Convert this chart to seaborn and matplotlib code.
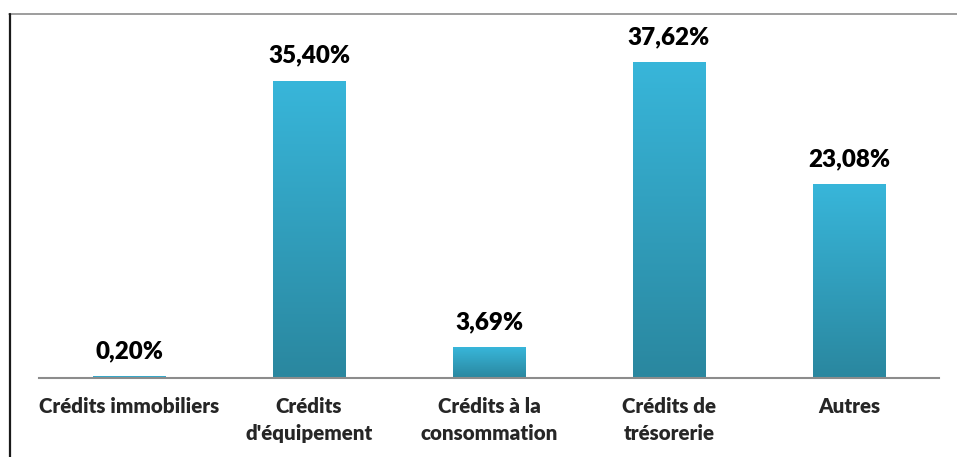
import matplotlib
matplotlib.use("Agg")
import matplotlib.pyplot as plt
import numpy as np
import pandas as pd
import seaborn as sns
from matplotlib.colors import LinearSegmentedColormap
from matplotlib.lines import Line2D

CATEGORIES = [
    "Crédits immobiliers",
    "Crédits\nd'équipement",
    "Crédits à la\nconsommation",
    "Crédits de\ntrésorerie",
    "Autres",
]
SHARES = [0.20, 35.40, 3.69, 37.62, 23.08]
VALUE_LABELS = ["0,20%", "35,40%", "3,69%", "37,62%", "23,08%"]

TOP_COLOR = "#38B6DA"
BOTTOM_COLOR = "#2A879F"
FONT = ["Lato", "DejaVu Sans"]


def main():
    sns.set_style("white")
    plt.rcParams["font.family"] = FONT

    df = pd.DataFrame({"cat": CATEGORIES, "share": SHARES})

    fig = plt.figure(figsize=(9.57, 4.57), dpi=100)
    ax = fig.add_axes([39 / 957, 79 / 457, 900 / 957, 358 / 457])
    sns.barplot(data=df, x="cat", y="share", color=TOP_COLOR, width=0.405,
                ax=ax, saturation=1)

    ax.set_xlim(-0.5, len(CATEGORIES) - 0.5)
    ax.set_ylim(0, 358 / 8.4)

    # gradient fill inside each bar
    cmap = LinearSegmentedColormap.from_list("bar", [BOTTOM_COLOR, TOP_COLOR])
    grad = np.linspace(0, 1, 256).reshape(-1, 1)
    for patch in ax.patches:
        x0, y0 = patch.get_x(), patch.get_y()
        w, h = patch.get_width(), patch.get_height()
        im = ax.imshow(grad, cmap=cmap, aspect="auto", origin="lower",
                       extent=(x0, x0 + w, y0, y0 + h), zorder=patch.get_zorder())
        im.set_clip_path(patch)
        patch.set_facecolor("none")
        patch.set_edgecolor("none")

    for i, (val, lab) in enumerate(zip(SHARES, VALUE_LABELS)):
        ax.annotate(lab, (i, val), xytext=(0, 10), textcoords="offset points",
                    ha="center", va="bottom", fontsize=17.4, fontweight="heavy",
                    color="black")

    for side in ["top", "right", "left"]:
        ax.spines[side].set_visible(False)
    ax.spines["bottom"].set_color("#8C8C8C")
    ax.spines["bottom"].set_linewidth(1.5)
    ax.set_yticks([])
    ax.set_xlabel("")
    ax.set_ylabel("")
    ax.tick_params(axis="x", length=0, pad=14)
    ax.set_xticks(range(len(CATEGORIES)))
    ax.set_xticklabels(CATEGORIES, fontsize=14.8, fontweight="heavy",
                       linespacing=1.45, va="top")

    # chart frame: grey top edge, dark left edge
    fig.add_artist(Line2D([9 / 957, 1], [1 - 14 / 457, 1 - 14 / 457],
                          transform=fig.transFigure, color="#8C8C8C", lw=1.2))
    fig.add_artist(Line2D([9.5 / 957, 9.5 / 957], [0, 1 - 14 / 457],
                          transform=fig.transFigure, color="#1A1A1A", lw=1.6))

    fig.savefig("out.png", dpi=100)
    plt.close(fig)


if __name__ == "__main__":
    main()
